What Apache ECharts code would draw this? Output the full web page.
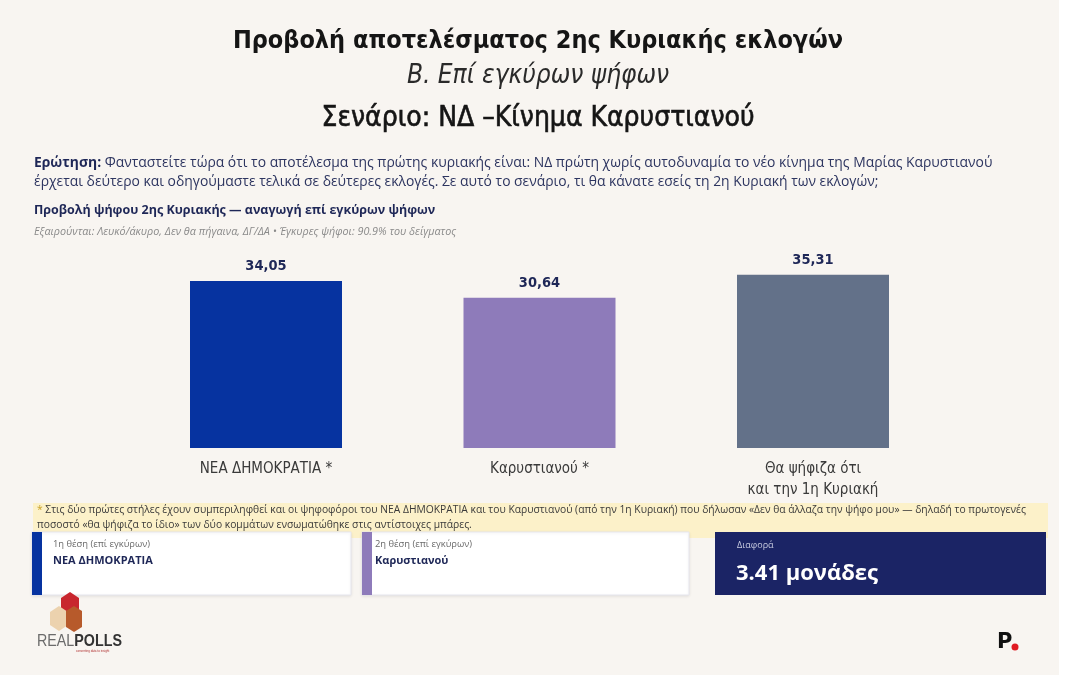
<!DOCTYPE html>
<html><head><meta charset="utf-8">
<script src="https://cdn.jsdelivr.net/npm/echarts@6/dist/echarts.min.js"></script>
<style>html,body{margin:0;padding:0;background:#ffffff;}#c{width:1076px;height:675px;}</style>
</head><body><div id="c"></div>
<script>
const categories = ['ΝΕΑ ΔΗΜΟΚΡΑΤΙΑ *', 'Καρυστιανού *', 'Θα ψήφιζα ότι\nκαι την 1η Κυριακή'];
const values = [34.05, 30.64, 35.31];
const valueLabels = ['34,05', '30,64', '35,31'];
const barColors = ['#0633a0', '#8e7bba', '#637189'];
const cards = [
  { caption: '1η θέση (επί εγκύρων)', name: 'ΝΕΑ ΔΗΜΟΚΡΑΤΙΑ' },
  { caption: '2η θέση (επί εγκύρων)', name: 'Καρυστιανού' }
];
const diffCaption = 'Διαφορά';
const diffText = '3.41 μονάδες';

const titleFont = '"DejaVu Sans Condensed", "Liberation Sans Narrow", sans-serif';
const bodyFont = '"Open Sans", "Noto Sans", sans-serif';

const chart = echarts.init(document.getElementById('c'), null, { renderer: 'canvas' });
const navy = '#1e2757';

const option = {
  backgroundColor: '#ffffff',
  animation: false,
  grid: { left: 129.25, right: 126.25, top: 271.4, bottom: 227 },
  xAxis: {
    type: 'category', data: categories,
    axisLine: { show: false }, axisTick: { show: false },
    axisLabel: { color: '#3a3a3a', fontSize: 15, fontFamily: titleFont, margin: 11, lineHeight: 21 }
  },
  yAxis: { type: 'value', min: 0, max: 36, show: false, splitLine: { show: false } },
  series: [{
    type: 'bar', barWidth: 152,
    data: values.map((v, i) => ({ value: v, itemStyle: { color: barColors[i] } })),
    label: {
      show: true, position: 'top', distance: 7,
      formatter: p => valueLabels[p.dataIndex],
      color: navy, fontWeight: 'bold', fontSize: 14.5, fontFamily: titleFont
    }
  }],
  graphic: [
    { type: 'rect', z: -10, shape: { x: 0, y: 0, width: 1059, height: 675 }, style: { fill: '#f8f5f1' }, silent: true },
    { type: 'text', left: 'center', top: 29, style: { text: 'Προβολή αποτελέσματος 2ης Κυριακής εκλογών', font: 'bold 25px ' + titleFont, fill: '#151515' } },
    { type: 'text', top: 63, left: 'center', style: { text: 'Β. Επί εγκύρων ψήφων', font: 'italic 26px ' + titleFont, fill: '#2a2a2a' } },
    { type: 'text', top: 104, left: 'center', style: { text: 'Σενάριο: ΝΔ –Κίνημα Καρυστιανού', font: '28px ' + titleFont, fill: '#151515', stroke: '#151515', lineWidth: 0.6 } },
    { type: 'text', x: 34, y: 153, style: {
      text: '{b|Ερώτηση:} Φανταστείτε τώρα ότι το αποτέλεσμα της πρώτης κυριακής είναι: ΝΔ πρώτη χωρίς αυτοδυναμία το νέο κίνημα της Μαρίας Καρυστιανού\nέρχεται δεύτερο και οδηγούμαστε τελικά σε δεύτερες εκλογές. Σε αυτό το σενάριο, τι θα κάνατε εσείς τη 2η Κυριακή των εκλογών;',
      font: '13.9px ' + bodyFont, fill: '#2d3560', lineHeight: 19.5,
      rich: { b: { fontWeight: 'bold', fontSize: 13.9, fontFamily: bodyFont, fill: '#1e2757', lineHeight: 19.5 } }
    } },
    { type: 'text', x: 34, y: 204, style: { text: 'Προβολή ψήφου 2ης Κυριακής — αναγωγή επί εγκύρων ψήφων', font: 'bold 12.5px ' + bodyFont, fill: '#1e2757' } },
    { type: 'text', x: 34, y: 226, style: { text: 'Εξαιρούνται: Λευκό/άκυρο, Δεν θα πήγαινα, ΔΓ/ΔΑ • Έγκυρες ψήφοι: 90.9% του δείγματος', font: 'italic 10.8px ' + bodyFont, fill: '#8a8a8a' } },
    // note box
    { type: 'rect', shape: { x: 33, y: 503, width: 1015, height: 35 }, style: { fill: '#fcf1c9' } },
    { type: 'text', x: 37, y: 503, style: {
      text: '{s|*} Στις δύο πρώτες στήλες έχουν συμπεριληφθεί και οι ψηφοφόροι του ΝΕΑ ΔΗΜΟΚΡΑΤΙΑ και του Καρυστιανού (από την 1η Κυριακή) που δήλωσαν «Δεν θα άλλαζα την ψήφο μου» — δηλαδή το πρωτογενές\nποσοστό «θα ψήφιζα το ίδιο» των δύο κομμάτων ενσωματώθηκε στις αντίστοιχες μπάρες.',
      font: '10.3px ' + bodyFont, fill: '#3a3a3a', lineHeight: 15,
      rich: { s: { fill: '#c9a227', fontSize: 10.3, fontFamily: bodyFont } }
    } },
    // card 1
    { type: 'rect', shape: { x: 32, y: 532, width: 319, height: 63 }, style: { fill: '#ffffff', stroke: '#e6e6ee', lineWidth: 1, shadowBlur: 3, shadowColor: 'rgba(0,0,0,0.08)', shadowOffsetY: 1 } },
    { type: 'rect', shape: { x: 32, y: 532, width: 10, height: 63 }, style: { fill: '#0633a0' } },
    { type: 'text', x: 53, y: 540, style: { text: cards[0].caption, font: '9.4px ' + bodyFont, fill: '#6a6a6a' } },
    { type: 'text', x: 53, y: 555, style: { text: cards[0].name, font: 'bold 11px ' + bodyFont, fill: '#1e2757' } },
    // card 2
    { type: 'rect', shape: { x: 362, y: 532, width: 327, height: 63 }, style: { fill: '#ffffff', stroke: '#e6e6ee', lineWidth: 1, shadowBlur: 3, shadowColor: 'rgba(0,0,0,0.08)', shadowOffsetY: 1 } },
    { type: 'rect', shape: { x: 362, y: 532, width: 10, height: 63 }, style: { fill: '#8e7bba' } },
    { type: 'text', x: 375, y: 540, style: { text: cards[1].caption, font: '9.4px ' + bodyFont, fill: '#6a6a6a' } },
    { type: 'text', x: 375, y: 555, style: { text: cards[1].name, font: 'bold 11px ' + bodyFont, fill: '#1e2757' } },
    // diff card
    { type: 'rect', shape: { x: 715, y: 532, width: 331, height: 63 }, style: { fill: '#1b2465' } },
    { type: 'text', x: 737, y: 541, style: { text: diffCaption, font: '9px ' + bodyFont, fill: '#c8cbe0' } },
    { type: 'text', x: 736, y: 563, style: { text: diffText, font: 'bold 22px ' + bodyFont, fill: '#ffffff' } },
    // REALPOLLS logo
    { type: 'polygon', shape: { points: [[70,592],[79,598],[79,611],[70,617],[61,611],[61,598]] }, style: { fill: '#c8262e' } },
    { type: 'polygon', shape: { points: [[59,606],[68,612],[68,625],[59,631],[50,625],[50,612]] }, style: { fill: '#ecd2ae' } },
    { type: 'polygon', shape: { points: [[74,606],[82,611],[82,627],[74,632],[66,627],[66,611]] }, style: { fill: '#b75a2b' } },
    { type: 'text', x: 37, y: 633, scaleX: 0.84, style: { text: '{a|REAL}{b|POLLS}', rich: { a: { fontSize: 17, fontFamily: 'sans-serif', fill: '#6b6b6b' }, b: { fontSize: 17, fontWeight: 'bold', fontFamily: 'sans-serif', fill: '#333333' } } } },
    { type: 'text', x: 76, y: 650, style: { text: 'converting data to insight', font: '3px sans-serif', fill: '#b03030' } },
    // P. logo
    { type: 'text', x: 997, y: 632, style: { text: 'P', font: 'bold 21px "DejaVu Sans", sans-serif', fill: '#111111' } },
    { type: 'circle', shape: { cx: 1015, cy: 647, r: 3.5 }, style: { fill: '#e01a22' } }
  ]
};
chart.setOption(option);
</script>
</body></html>
